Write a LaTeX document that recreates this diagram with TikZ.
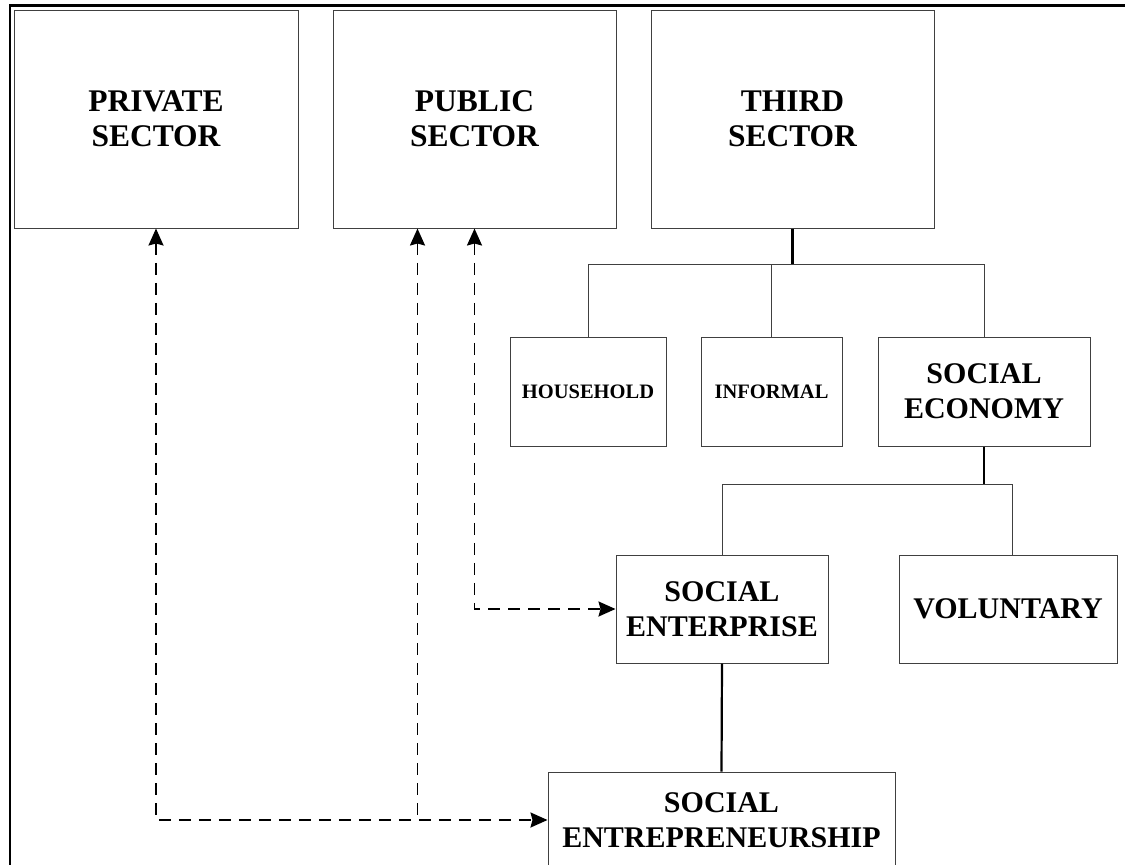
\documentclass[tikz,border=0pt]{standalone}
\usepackage{fontspec}
\setmainfont{Liberation Serif}
\usepackage{tikz}
\usetikzlibrary{arrows.meta}

\begin{document}
\begin{tikzpicture}[x=1pt,y=-1pt,
    sector/.style={draw=black!75,line width=1pt,inner sep=0pt,align=center,
      font=\bfseries\fontsize{30}{35}\selectfont},
    big/.style={font=\bfseries\fontsize{31.5}{35}\selectfont},
    small/.style={font=\bfseries\fontsize{20.5}{24}\selectfont},
    link/.style={draw=black!75,line width=1pt},
    stem/.style={draw=black,line width=2.2pt},
    flow/.style={line width=1.9pt,dash pattern=on 12pt off 8pt,
      arrows={Stealth[length=17pt,width=15pt,inset=2pt]-Stealth[length=17pt,width=15pt,inset=2pt]}}]

    \useasboundingbox (0,0) rectangle (1125,865);

    % Outer frame
    \draw[line width=2.4pt] (10,870) -- (10,5.5) -- (1126,5.5);

    % Place the three sectors
    \node[sector,big,minimum width=284pt,minimum height=218pt] (private) at (156,119) {PRIVATE\\SECTOR};
    \node[sector,big,minimum width=283pt,minimum height=218pt] (public) at (474.5,119) {PUBLIC\\SECTOR};
    \node[sector,big,minimum width=283pt,minimum height=218pt] (third) at (792.5,119) {THIRD\\SECTOR};

    % Place the parts of the third sector
    \node[sector,small,minimum width=156pt,minimum height=109pt] (household) at (588,391.5) {HOUSEHOLD};
    \node[sector,small,minimum width=141pt,minimum height=109pt] (informal) at (771.5,391.5) {INFORMAL};
    \node[sector,minimum width=212pt,minimum height=109pt] (soceco) at (984,391.5) {SOCIAL\\ECONOMY};

    % Place the parts of the social economy
    \node[sector,minimum width=212pt,minimum height=108pt] (socent) at (722,609) {SOCIAL\\ENTERPRISE};
    \node[sector,minimum width=218pt,minimum height=108pt] (voluntary) at (1008,609) {VOLUNTARY};
    \node[sector,minimum width=347pt,minimum height=96pt] (entrep) at (721.5,820) {SOCIAL\\ENTREPRENEURSHIP};

    % Bars of the tree
    \coordinate (tbar) at (793,264);
    \coordinate (ebar) at (984,484);

    % Draw the tree
    \draw[stem] (third.south) -- (third.south |- tbar);
    \draw[link] (household.north) -- (household.north |- tbar) -- (soceco.north |- tbar) -- (soceco.north);
    \draw[link] (informal.north) -- (informal.north |- tbar);
    \draw[stem] (soceco.south) -- (soceco.south |- ebar);
    \draw[link] (socent.north) -- (socent.north |- ebar) -- ([xshift=4pt]voluntary.north |- ebar) -- ([xshift=4pt]voluntary.north);
    \draw[stem] (socent.south) -- (entrep.north);

    % Draw the dashed links
    \draw[flow] (private.south) |- (entrep.west);
    \draw[flow,{Stealth[length=17pt,width=15pt,inset=2pt]}-] ([xshift=-57pt]public.south) -- ([xshift=-57pt]public.south |- entrep.west);
    \draw[flow] (public.south) |- (socent.west);

\end{tikzpicture}
\end{document}
